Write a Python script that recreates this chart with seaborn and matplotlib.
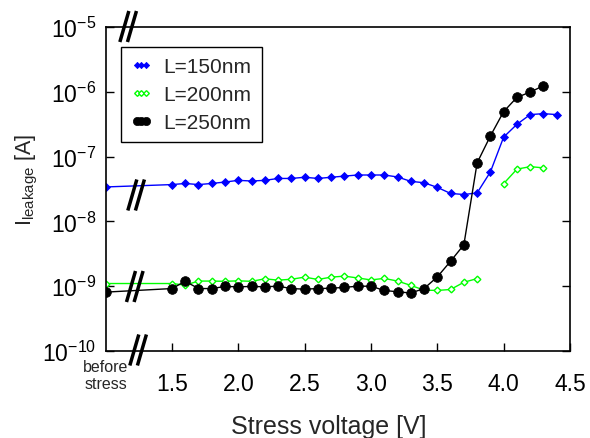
import numpy as np
import pandas as pd
import matplotlib
matplotlib.use('Agg')
import matplotlib.pyplot as plt
import matplotlib.transforms as mtrans
from matplotlib.lines import Line2D
from matplotlib.ticker import LogLocator, NullLocator, FixedLocator, FixedFormatter
import seaborn as sns

# ---------------- data ----------------
# x = 1.0 is the "before stress" position
v_l150 = [1.0, 1.5, 1.6, 1.7, 1.8, 1.9, 2.0, 2.1, 2.2, 2.3, 2.4, 2.5, 2.6, 2.7, 2.8, 2.9,
          3.0, 3.1, 3.2, 3.3, 3.4, 3.5, 3.6, 3.7, 3.8, 3.9, 4.0, 4.1, 4.2, 4.3, 4.4]
i_l150 = [3.4e-8, 3.7e-8, 3.85e-8, 3.7e-8, 3.85e-8, 4.05e-8, 4.3e-8, 4.2e-8, 4.3e-8, 4.6e-8,
          4.6e-8, 4.8e-8, 4.6e-8, 4.8e-8, 5.0e-8, 5.2e-8, 5.2e-8, 5.2e-8, 4.85e-8, 4.15e-8,
          3.95e-8, 3.35e-8, 2.7e-8, 2.6e-8, 2.75e-8, 5.8e-8, 2.0e-7, 3.15e-7, 4.45e-7, 4.6e-7, 4.45e-7]

v_l200_a = [1.0, 1.5, 1.6, 1.7, 1.8, 1.9, 2.0, 2.1, 2.2, 2.3, 2.4, 2.5, 2.6, 2.7, 2.8, 2.9,
            3.0, 3.1, 3.2, 3.3, 3.4, 3.5, 3.6, 3.7, 3.8]
i_l200_a = [1.1e-9, 1.1e-9, 1.04e-9, 1.2e-9, 1.2e-9, 1.19e-9, 1.21e-9, 1.19e-9, 1.3e-9, 1.24e-9,
            1.28e-9, 1.38e-9, 1.27e-9, 1.38e-9, 1.43e-9, 1.34e-9, 1.25e-9, 1.32e-9, 1.2e-9, 1.03e-9,
            0.87e-9, 0.86e-9, 0.89e-9, 1.15e-9, 1.31e-9]
v_l200_b = [4.0, 4.1, 4.2, 4.3]
i_l200_b = [3.83e-8, 6.4e-8, 7.0e-8, 6.7e-8]

v_l250 = [1.0, 1.5, 1.6, 1.7, 1.8, 1.9, 2.0, 2.1, 2.2, 2.3, 2.4, 2.5, 2.6, 2.7, 2.8, 2.9,
          3.0, 3.1, 3.2, 3.3, 3.4, 3.5, 3.6, 3.7, 3.8, 3.9, 4.0, 4.1, 4.2, 4.3]
i_l250 = [8.1e-10, 9.2e-10, 1.19e-9, 9.2e-10, 9.2e-10, 9.9e-10, 9.8e-10, 9.9e-10, 9.8e-10, 1.0e-9,
          9.2e-10, 9.0e-10, 9.2e-10, 9.3e-10, 9.6e-10, 1.0e-9, 1.0e-9, 8.6e-10, 8.2e-10, 7.85e-10,
          9.2e-10, 1.39e-9, 2.43e-9, 4.35e-9, 8.0e-8, 2.08e-7, 4.95e-7, 8.2e-7, 9.9e-7, 1.24e-6]

series_labels = ['L=150nm', 'L=200nm', 'L=250nm']
x_ticks = [1.5, 2.0, 2.5, 3.0, 3.5, 4.0, 4.5]
x_tick_labels = ['1.5', '2.0', '2.5', '3.0', '3.5', '4.0', '4.5']
before_label = 'before\nstress'

# ---------------- style ----------------
sns.set_style('white')
plt.rcParams['font.family'] = ['Liberation Sans', 'DejaVu Sans']
plt.rcParams['mathtext.default'] = 'regular'

W, H = 590, 439
fig = plt.figure(figsize=(W / 100, H / 100), dpi=100)
ax_l, ax_r, ax_t, ax_b = 105.6, 570.0, 28.0, 352.0
ax = fig.add_axes([ax_l / W, 1 - ax_b / H, (ax_r - ax_l) / W, (ax_b - ax_t) / H])

df150 = pd.DataFrame({'V': v_l150, 'I': i_l150})
df200a = pd.DataFrame({'V': v_l200_a, 'I': i_l200_a})
df200b = pd.DataFrame({'V': v_l200_b, 'I': i_l200_b})
df250 = pd.DataFrame({'V': v_l250, 'I': i_l250})

blue = '#0000FF'
green = '#00FF00'

sns.lineplot(data=df150, x='V', y='I', ax=ax, color=blue, lw=1.0, marker='D',
             markersize=3.7, markerfacecolor=blue, markeredgecolor=blue, markeredgewidth=0.6,
             label=series_labels[0], estimator=None, sort=False)
sns.lineplot(data=df200a, x='V', y='I', ax=ax, color=green, lw=1.0, marker='D',
             markersize=3.4, markerfacecolor='white', markeredgecolor=green, markeredgewidth=1.0,
             label=series_labels[1], estimator=None, sort=False)
sns.lineplot(data=df200b, x='V', y='I', ax=ax, color=green, lw=1.0, marker='D',
             markersize=3.4, markerfacecolor='white', markeredgecolor=green, markeredgewidth=1.0,
             label='_nolegend_', estimator=None, sort=False)
sns.lineplot(data=df250, x='V', y='I', ax=ax, color='black', lw=1.0, marker='o',
             markersize=7, markerfacecolor='black', markeredgecolor='black', markeredgewidth=0.5,
             label=series_labels[2], estimator=None, sort=False)

ax.set_yscale('log')
ax.set_xlim(1.0, 4.5)
ax.set_ylim(1e-10, 1e-5)
ax.yaxis.set_major_locator(LogLocator(base=10, numticks=10))
ax.yaxis.set_minor_locator(NullLocator())
ax.xaxis.set_major_locator(FixedLocator(x_ticks))
ax.xaxis.set_major_formatter(FixedFormatter(x_tick_labels))
ax.xaxis.set_minor_locator(NullLocator())

for s in ax.spines.values():
    s.set_visible(True)
    s.set_linewidth(1.2)
    s.set_color('black')

ax.tick_params(axis='y', which='major', direction='in', length=6, width=1.0,
               left=True, right=True, labelsize=16.5, pad=7, colors='black')
ax.tick_params(axis='x', which='major', direction='in', length=6, width=1.0,
               bottom=True, top=False, labelsize=16.5, pad=15, colors='black')

ax.set_xlabel('Stress voltage [V]', fontsize=18)
ax.set_ylabel(r'$\mathregular{I_{leakage}}$ [A]', fontsize=15.5)
ax.xaxis.set_label_coords((329 - ax_l) / (ax_r - ax_l), -(415 - ax_b) / (ax_b - ax_t))
ax.yaxis.set_label_coords(-(ax_l - 40) / (ax_r - ax_l), (ax_b - 180) / (ax_b - ax_t))

ax.text(1.0, -8 / (ax_b - ax_t), before_label, transform=ax.get_xaxis_transform(),
        ha='center', va='top', fontsize=11.5, linespacing=1.15)

leg = ax.legend(loc='upper left', bbox_to_anchor=(15 / (ax_r - ax_l), 1 - 20 / (ax_b - ax_t)),
                borderaxespad=0, numpoints=3, fontsize=15, frameon=True, fancybox=False,
                framealpha=1, edgecolor='black', handlelength=1.0, handletextpad=0.55,
                labelspacing=0.42, borderpad=0.5, markerscale=0.85)
leg.get_frame().set_linewidth(1.0)

# axis-break marks "//"
def draw_break(xv, py):
    cx, _ = ax.transData.transform((xv, 1e-7))
    for off in (-3.8, 3.8):
        xs = [cx + off - 4.5, cx + off + 4.5]
        ys = [H - (py + 15.5), H - (py - 15.5)]
        ax.add_line(Line2D(xs, ys, transform=mtrans.IdentityTransform(), color='black',
                           lw=2.5, clip_on=False, zorder=10, solid_capstyle='butt'))

draw_break(1.17, 27.5)
draw_break(1.23, 196)
draw_break(1.22, 287.5)
draw_break(1.245, 351)

fig.savefig('out.png', dpi=100)
